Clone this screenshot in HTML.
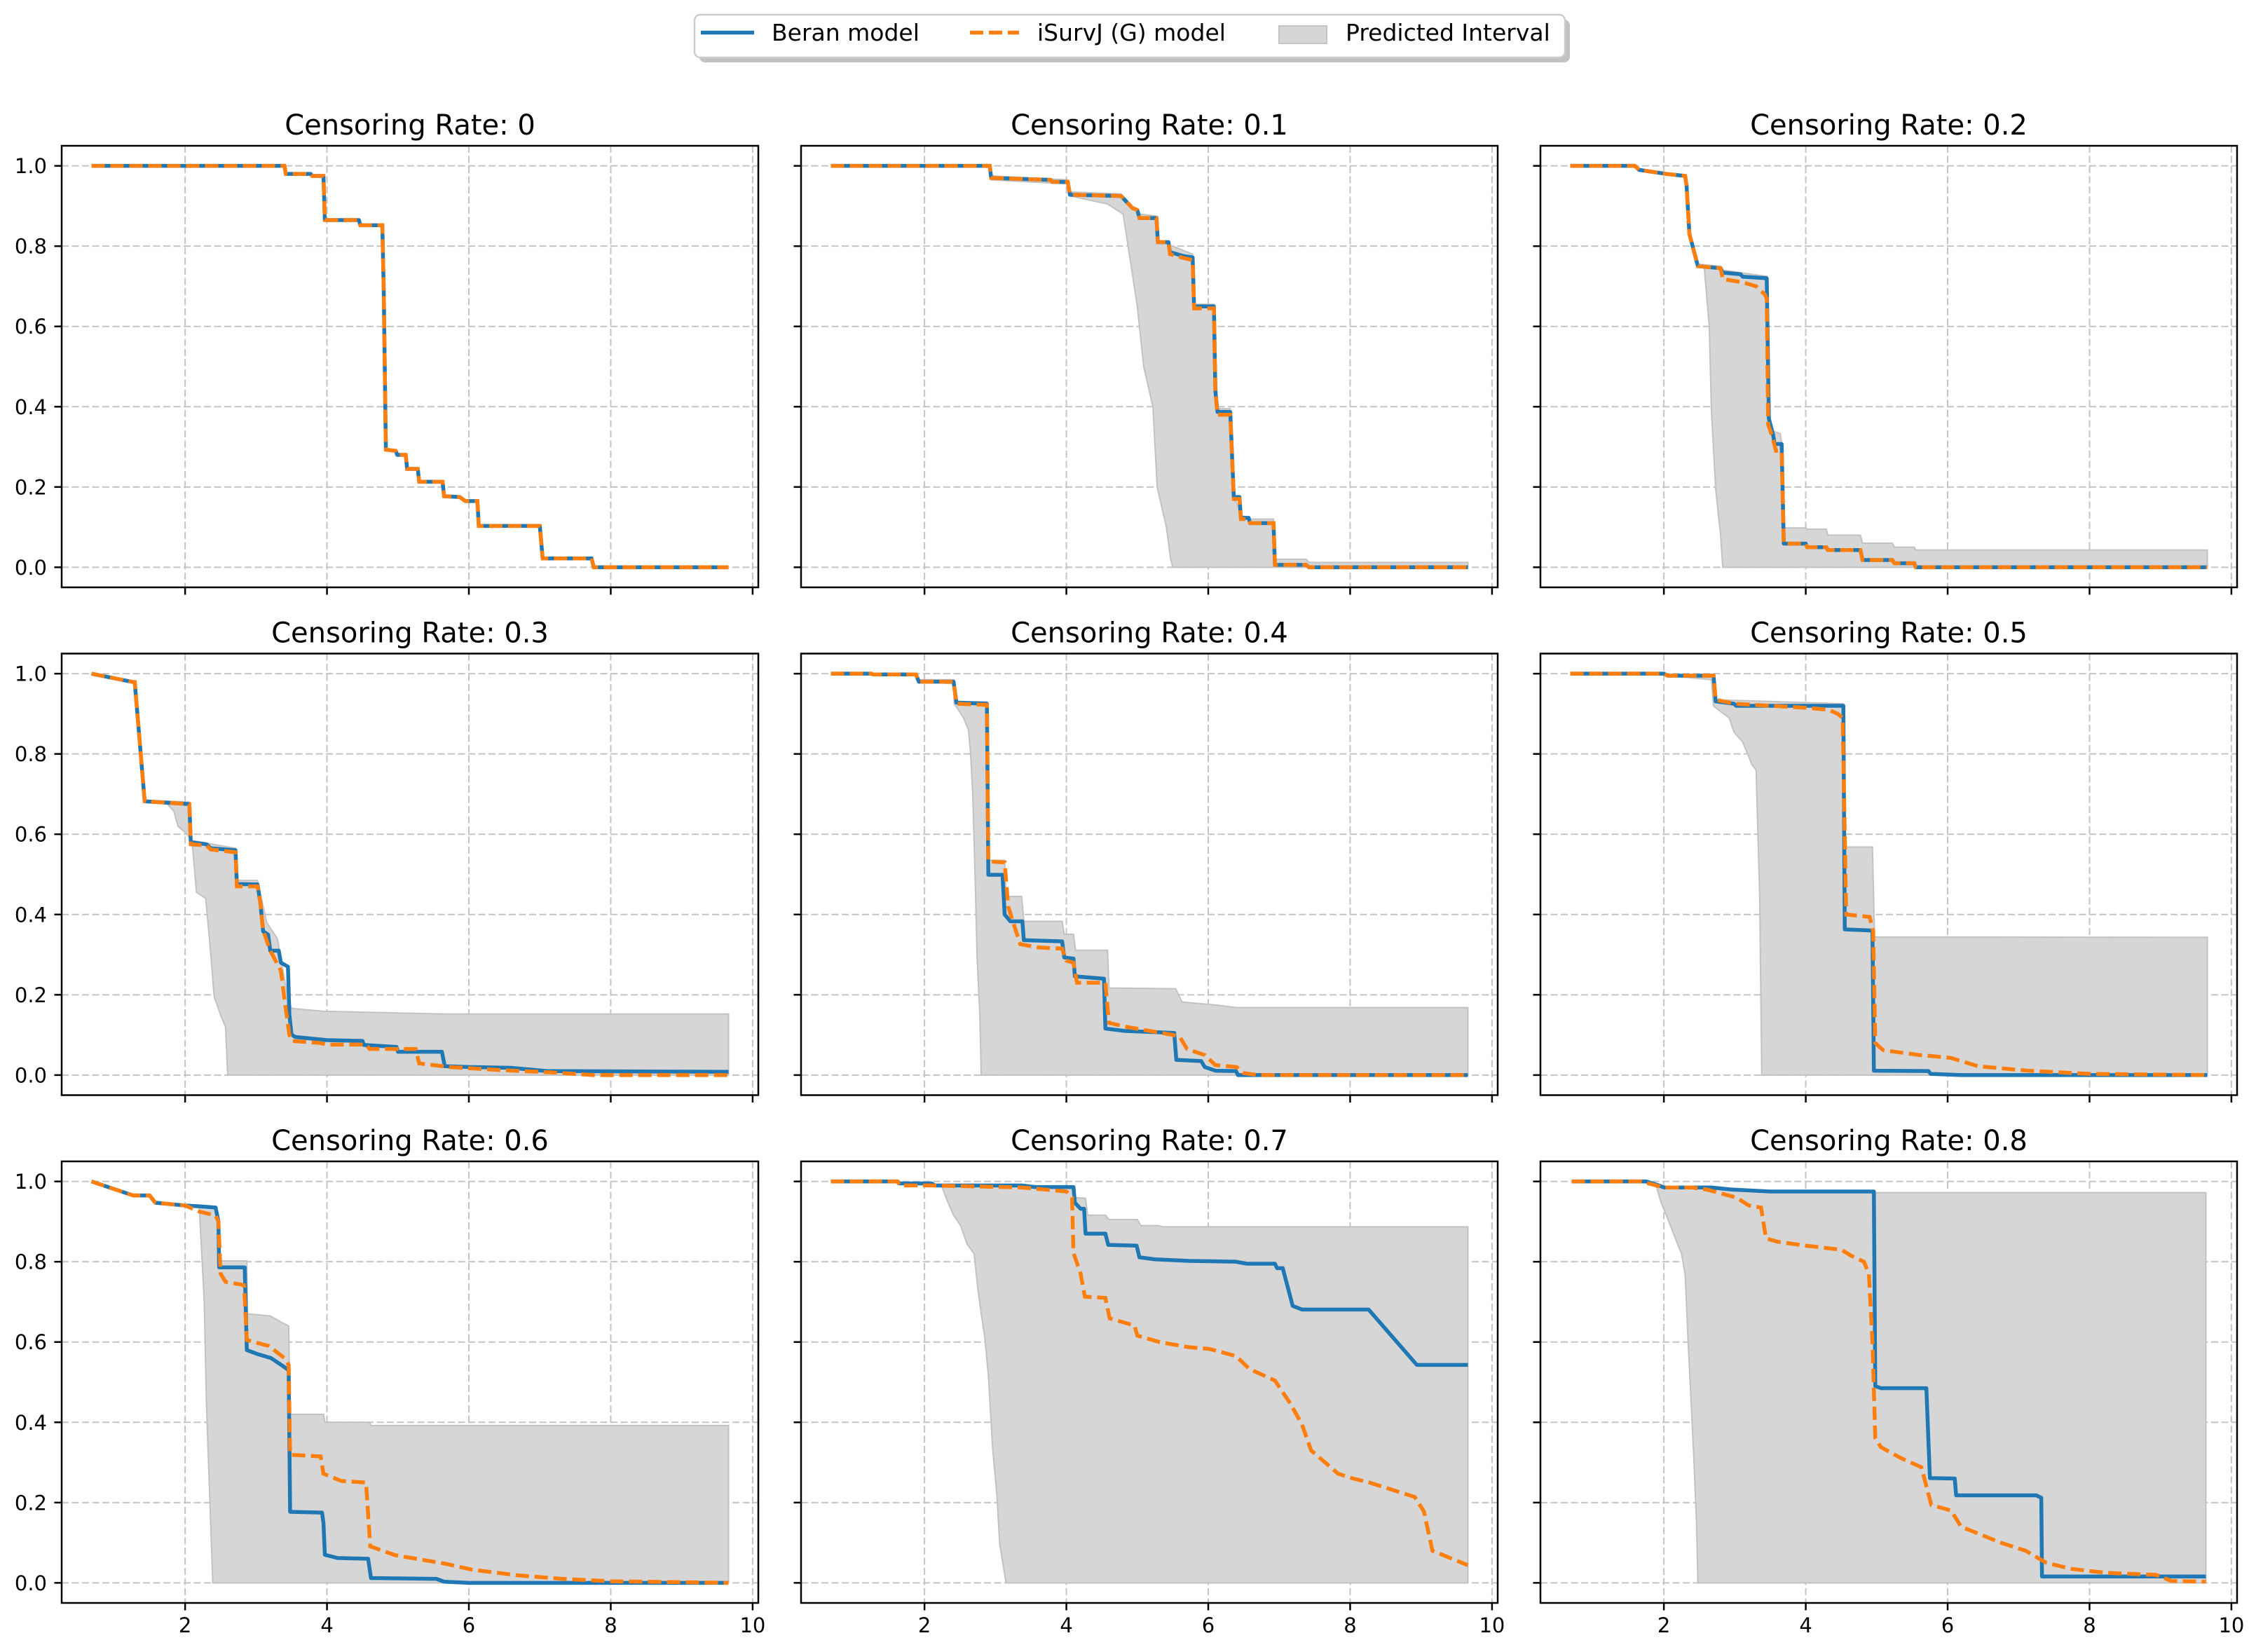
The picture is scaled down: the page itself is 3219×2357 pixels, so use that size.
<!DOCTYPE html>
<html><head><meta charset="utf-8">
<style>
html,body{margin:0;padding:0;background:#fff;}
svg{display:block;}
text{font-family:"DejaVu Sans","Liberation Sans",sans-serif;}
</style></head>
<body>
<svg id="fig" xmlns="http://www.w3.org/2000/svg" width="3219" height="2357" viewBox="0 0 3219 2357">
<rect x="0" y="0" width="3219" height="2357" fill="#ffffff"/>
<g>
  <rect x="998" y="28" width="1242" height="61" rx="8" fill="#999999" opacity="0.6"/>
  <rect x="991" y="21" width="1242" height="61" rx="8" fill="#ffffff" stroke="#cccccc" stroke-width="2.5"/>
  <g>
    <line x1="1000" y1="46.5" x2="1076" y2="46.5" stroke="#1f77b4" stroke-width="5.5"/>
    <text x="1101" y="58" font-size="33" fill="#000">Beran model</text>
  </g>
  <g>
    <line x1="1384" y1="46.5" x2="1454" y2="46.5" stroke="#ff7f0e" stroke-width="5.5" stroke-dasharray="19 8"/>
    <text x="1480" y="58" font-size="33" fill="#000">iSurvJ (G) model</text>
  </g>
  <g>
    <rect x="1825" y="37" width="68" height="25" fill="#d6d6d6" stroke="#c4c4c4" stroke-width="2"/>
    <text x="1920" y="58" font-size="33" fill="#000">Predicted Interval</text>
  </g>
</g>
</svg>
<script>
const panelTitles = ["Censoring Rate: 0","Censoring Rate: 0.1","Censoring Rate: 0.2","Censoring Rate: 0.3","Censoring Rate: 0.4","Censoring Rate: 0.5","Censoring Rate: 0.6","Censoring Rate: 0.7","Censoring Rate: 0.8"];
const yTicks = [0, 0.2, 0.4, 0.6, 0.8, 1.0];
const yTickLabels = ["0.0","0.2","0.4","0.6","0.8","1.0"];
const xTicks = [2, 4, 6, 8, 10];
const xTickLabels = ["2","4","6","8","10"];

const cr0_beran = [[0.68,1],[3.40,1],[3.42,0.98],[3.77,0.98],[3.79,0.975],[3.95,0.975],[3.97,0.865],[4.45,0.865],[4.47,0.852],[4.78,0.852],[4.80,0.69],[4.83,0.293],[4.97,0.29],[4.99,0.28],[5.11,0.28],[5.13,0.245],[5.28,0.245],[5.30,0.213],[5.63,0.213],[5.65,0.177],[5.87,0.175],[5.95,0.165],[6.12,0.165],[6.14,0.103],[7.0,0.103],[7.04,0.022],[7.73,0.022],[7.76,0],[9.66,0]];
const cr0_isurv = [[0.68,1],[3.40,1],[3.42,0.98],[3.77,0.98],[3.79,0.975],[3.95,0.975],[3.97,0.865],[4.45,0.865],[4.47,0.852],[4.78,0.852],[4.80,0.69],[4.83,0.293],[4.97,0.29],[4.99,0.28],[5.11,0.28],[5.13,0.245],[5.28,0.245],[5.30,0.213],[5.63,0.213],[5.65,0.177],[5.87,0.175],[5.95,0.165],[6.12,0.165],[6.14,0.103],[7.0,0.103],[7.04,0.022],[7.73,0.022],[7.76,0],[9.66,0]];
const cr0_upper = [];
const cr0_lower = [];

const cr1_beran = [[0.68,1],[2.92,1],[2.94,0.97],[3.78,0.965],[3.80,0.96],[4.02,0.96],[4.05,0.928],[4.77,0.925],[4.85,0.91],[4.93,0.895],[5.0,0.89],[5.03,0.87],[5.27,0.87],[5.29,0.81],[5.44,0.81],[5.46,0.785],[5.66,0.775],[5.78,0.772],[5.80,0.65],[6.08,0.65],[6.10,0.44],[6.13,0.387],[6.31,0.387],[6.36,0.175],[6.44,0.175],[6.46,0.123],[6.57,0.123],[6.59,0.11],[6.92,0.11],[6.94,0.006],[7.38,0.006],[7.42,0],[9.66,0]];
const cr1_isurv = [[0.68,1],[2.92,1],[2.94,0.97],[3.78,0.965],[3.80,0.96],[4.02,0.96],[4.05,0.928],[4.77,0.925],[4.85,0.91],[4.93,0.895],[5.0,0.89],[5.03,0.87],[5.27,0.87],[5.29,0.81],[5.44,0.81],[5.46,0.78],[5.66,0.77],[5.78,0.765],[5.80,0.645],[6.08,0.645],[6.10,0.44],[6.13,0.38],[6.31,0.38],[6.36,0.17],[6.44,0.17],[6.46,0.12],[6.57,0.12],[6.59,0.11],[6.92,0.11],[6.94,0.006],[7.38,0.006],[7.42,0],[9.66,0]];
const cr1_upper = [[0.68,1],[2.92,1],[2.94,0.975],[4.02,0.965],[4.05,0.935],[4.77,0.93],[5.03,0.88],[5.27,0.875],[5.29,0.815],[5.78,0.78],[5.80,0.655],[6.08,0.655],[6.13,0.395],[6.31,0.395],[6.36,0.18],[6.46,0.13],[6.59,0.12],[6.92,0.12],[6.94,0.02],[7.38,0.02],[7.42,0.012],[9.66,0.012]];
const cr1_lower = [[0.68,1],[2.92,1],[2.94,0.965],[4.02,0.955],[4.05,0.925],[4.58,0.905],[4.80,0.88],[4.87,0.80],[5.0,0.65],[5.09,0.5],[5.22,0.4],[5.28,0.2],[5.41,0.1],[5.47,0.02],[5.50,0],[9.66,0]];

const cr2_beran = [[0.68,1],[1.59,1],[1.65,0.99],[2.03,0.98],[2.30,0.975],[2.32,0.95],[2.36,0.83],[2.45,0.77],[2.48,0.75],[2.80,0.745],[2.83,0.734],[3.08,0.73],[3.11,0.724],[3.45,0.72],[3.48,0.37],[3.54,0.33],[3.56,0.307],[3.66,0.307],[3.69,0.059],[4.0,0.059],[4.02,0.05],[4.29,0.05],[4.31,0.043],[4.77,0.043],[4.80,0.018],[5.22,0.018],[5.25,0.01],[5.53,0.01],[5.55,0],[9.66,0]];
const cr2_isurv = [[0.68,1],[1.59,1],[1.65,0.99],[2.03,0.98],[2.30,0.975],[2.32,0.95],[2.36,0.83],[2.45,0.77],[2.48,0.75],[2.80,0.745],[2.83,0.718],[3.11,0.71],[3.30,0.70],[3.42,0.68],[3.45,0.67],[3.47,0.355],[3.52,0.33],[3.58,0.29],[3.66,0.29],[3.69,0.059],[4.0,0.059],[4.02,0.05],[4.29,0.05],[4.31,0.043],[4.77,0.043],[4.80,0.018],[5.22,0.018],[5.25,0.01],[5.53,0.01],[5.55,0],[9.66,0]];
const cr2_upper = [[0.68,1],[1.59,1],[1.65,0.99],[2.03,0.98],[2.30,0.975],[2.32,0.95],[2.36,0.83],[2.45,0.77],[2.48,0.755],[2.80,0.75],[2.83,0.74],[3.45,0.725],[3.48,0.40],[3.52,0.34],[3.64,0.333],[3.66,0.31],[3.69,0.098],[4.0,0.098],[4.02,0.095],[4.29,0.095],[4.31,0.08],[4.77,0.08],[4.80,0.06],[5.22,0.06],[5.25,0.05],[5.53,0.05],[5.55,0.043],[9.66,0.043]];
const cr2_lower = [[0.68,1],[1.59,1],[1.65,0.99],[2.03,0.98],[2.30,0.975],[2.32,0.95],[2.36,0.83],[2.45,0.77],[2.48,0.75],[2.57,0.745],[2.64,0.6],[2.67,0.39],[2.73,0.195],[2.80,0.08],[2.83,0],[9.66,0]];

const cr3_beran = [[0.68,1],[1.27,0.979],[1.29,0.979],[1.43,0.682],[2.06,0.675],[2.08,0.58],[2.30,0.575],[2.36,0.565],[2.71,0.56],[2.73,0.476],[3.02,0.475],[3.06,0.43],[3.10,0.358],[3.17,0.35],[3.2,0.31],[3.32,0.31],[3.35,0.28],[3.45,0.27],[3.47,0.15],[3.5,0.101],[3.55,0.095],[4.0,0.087],[4.5,0.085],[4.52,0.075],[4.98,0.07],[5.0,0.058],[5.62,0.058],[5.66,0.022],[6.0,0.02],[6.6,0.018],[7.1,0.01],[9.66,0.008]];
const cr3_isurv = [[0.68,1],[1.27,0.979],[1.29,0.979],[1.43,0.682],[2.06,0.675],[2.08,0.575],[2.30,0.572],[2.36,0.562],[2.71,0.555],[2.73,0.47],[3.02,0.47],[3.06,0.43],[3.10,0.36],[3.2,0.31],[3.35,0.26],[3.4,0.19],[3.47,0.1],[3.5,0.085],[3.9,0.08],[4.0,0.076],[4.55,0.076],[4.6,0.065],[5.25,0.065],[5.30,0.029],[5.73,0.02],[6.49,0.012],[7.13,0.007],[7.76,0.0],[9.66,0]];
const cr3_upper = [[0.68,1],[1.27,0.98],[1.29,0.98],[1.43,0.685],[2.06,0.68],[2.08,0.585],[2.71,0.565],[2.73,0.485],[3.02,0.485],[3.15,0.38],[3.3,0.34],[3.44,0.2],[3.5,0.166],[3.94,0.159],[5.66,0.152],[9.66,0.152]];
const cr3_lower = [[0.68,1],[1.27,0.979],[1.29,0.979],[1.43,0.682],[1.75,0.675],[1.84,0.658],[1.9,0.62],[2.03,0.6],[2.1,0.58],[2.16,0.456],[2.29,0.44],[2.35,0.326],[2.41,0.195],[2.51,0.145],[2.57,0.12],[2.60,0],[9.66,0]];

const cr4_beran = [[0.68,1],[1.25,1],[1.27,0.998],[1.88,0.998],[1.92,0.98],[2.41,0.98],[2.45,0.928],[2.88,0.925],[2.9,0.499],[3.1,0.499],[3.13,0.40],[3.21,0.383],[3.38,0.383],[3.40,0.336],[3.94,0.333],[3.97,0.293],[4.1,0.29],[4.12,0.246],[4.53,0.24],[4.55,0.116],[4.82,0.11],[5.52,0.105],[5.55,0.038],[5.9,0.035],[5.95,0.02],[6.1,0.011],[6.39,0.01],[6.42,0.0],[9.66,0]];
const cr4_isurv = [[0.68,1],[1.25,1],[1.27,0.998],[1.88,0.998],[1.92,0.98],[2.41,0.98],[2.45,0.925],[2.88,0.922],[2.9,0.532],[3.13,0.53],[3.18,0.42],[3.25,0.38],[3.35,0.326],[3.6,0.318],[3.94,0.315],[4.0,0.285],[4.1,0.28],[4.15,0.23],[4.55,0.23],[4.6,0.13],[4.85,0.12],[5.5,0.10],[5.6,0.095],[5.7,0.065],[5.95,0.05],[6.1,0.025],[6.4,0.02],[6.5,0.005],[6.7,0],[9.66,0]];
const cr4_upper = [[0.68,1],[1.25,1],[1.88,1],[1.92,0.985],[2.41,0.985],[2.45,0.93],[2.88,0.93],[2.9,0.535],[3.13,0.535],[3.15,0.445],[3.37,0.445],[3.40,0.383],[3.94,0.383],[3.97,0.351],[4.10,0.351],[4.13,0.311],[4.58,0.311],[4.60,0.217],[5.54,0.215],[5.63,0.182],[6.08,0.175],[6.4,0.168],[9.66,0.168]];
const cr4_lower = [[0.68,1],[1.25,1],[1.88,0.998],[1.92,0.98],[2.41,0.975],[2.42,0.925],[2.55,0.89],[2.62,0.86],[2.65,0.80],[2.68,0.70],[2.72,0.45],[2.74,0.30],[2.78,0.15],[2.80,0],[9.66,0]];

const cr5_beran = [[0.68,1],[2.0,1],[2.05,0.995],[2.7,0.995],[2.73,0.931],[2.99,0.925],[3.02,0.92],[4.53,0.92],[4.55,0.363],[4.94,0.36],[4.96,0.011],[5.73,0.01],[5.76,0.003],[6.2,0],[9.66,0]];
const cr5_isurv = [[0.68,1],[2.0,1],[2.05,0.995],[2.7,0.995],[2.73,0.935],[3.0,0.925],[4.0,0.915],[4.32,0.91],[4.45,0.9],[4.52,0.89],[4.57,0.40],[4.9,0.394],[4.95,0.36],[4.98,0.08],[5.09,0.062],[5.6,0.05],[6.04,0.043],[6.43,0.022],[7.13,0.011],[8.0,0.003],[9.66,0]];
const cr5_upper = [[0.68,1],[2.0,1],[2.05,0.995],[2.7,0.995],[2.73,0.935],[4.53,0.925],[4.56,0.568],[4.94,0.568],[4.97,0.344],[9.66,0.343]];
const cr5_lower = [[0.68,1],[2.0,1],[2.05,0.995],[2.67,0.985],[2.70,0.919],[2.92,0.89],[2.99,0.854],[3.11,0.83],[3.18,0.80],[3.24,0.774],[3.30,0.76],[3.35,0.45],[3.38,0],[9.66,0]];

const cr6_beran = [[0.68,1],[1.27,0.965],[1.50,0.965],[1.58,0.947],[2.0,0.94],[2.2,0.938],[2.43,0.935],[2.47,0.9],[2.48,0.786],[2.84,0.786],[2.87,0.58],[3.02,0.57],[3.21,0.56],[3.38,0.54],[3.46,0.53],[3.48,0.177],[3.93,0.175],[3.95,0.15],[3.97,0.07],[4.15,0.062],[4.58,0.06],[4.62,0.012],[5.54,0.01],[5.65,0.003],[6.0,0],[9.66,0]];
const cr6_isurv = [[0.68,1],[1.27,0.965],[1.50,0.965],[1.58,0.947],[2.0,0.94],[2.2,0.925],[2.43,0.915],[2.47,0.9],[2.5,0.77],[2.57,0.75],[2.83,0.742],[2.87,0.605],[3.18,0.59],[3.4,0.56],[3.46,0.543],[3.48,0.319],[3.91,0.315],[3.95,0.272],[4.2,0.254],[4.55,0.25],[4.61,0.091],[4.96,0.069],[5.66,0.048],[6.04,0.033],[6.68,0.019],[7.32,0.01],[8.0,0.004],[9.66,0]];
const cr6_upper = [[0.68,1],[1.27,0.965],[1.50,0.965],[1.58,0.947],[2.0,0.94],[2.43,0.938],[2.48,0.802],[2.87,0.802],[2.88,0.67],[3.2,0.665],[3.4,0.645],[3.46,0.64],[3.48,0.42],[3.95,0.42],[3.97,0.40],[4.6,0.40],[4.62,0.392],[9.66,0.392]];
const cr6_lower = [[0.68,1],[1.27,0.965],[1.50,0.965],[1.58,0.947],[2.0,0.94],[2.2,0.935],[2.27,0.7],[2.30,0.45],[2.35,0.2],[2.39,0],[9.66,0]];

const cr7_beran = [[0.68,1],[1.62,1],[1.65,0.995],[2.1,0.995],[2.15,0.99],[3.37,0.99],[3.56,0.986],[4.1,0.986],[4.12,0.947],[4.2,0.932],[4.25,0.932],[4.27,0.87],[4.55,0.87],[4.59,0.842],[4.99,0.84],[5.03,0.811],[5.25,0.806],[5.73,0.802],[6.39,0.8],[6.55,0.795],[6.94,0.795],[6.97,0.784],[7.05,0.784],[7.19,0.69],[7.32,0.681],[8.26,0.681],[8.94,0.543],[9.66,0.543]];
const cr7_isurv = [[0.68,1],[1.62,1],[1.65,0.99],[2.1,0.99],[3.37,0.985],[3.56,0.982],[4.0,0.975],[4.08,0.96],[4.1,0.822],[4.2,0.771],[4.26,0.713],[4.55,0.71],[4.61,0.659],[4.96,0.641],[5.0,0.616],[5.31,0.6],[5.73,0.587],[6.01,0.583],[6.39,0.565],[6.58,0.533],[6.94,0.504],[7.16,0.446],[7.32,0.395],[7.45,0.33],[7.64,0.301],[7.83,0.272],[8.02,0.261],[8.27,0.25],[8.91,0.214],[9.04,0.178],[9.16,0.08],[9.66,0.044]];
const cr7_upper = [[0.68,1],[1.62,1],[1.65,0.995],[2.1,0.995],[2.15,0.99],[3.37,0.99],[3.56,0.987],[4.1,0.987],[4.12,0.96],[4.27,0.958],[4.30,0.916],[4.55,0.916],[4.60,0.905],[5.0,0.905],[5.05,0.89],[5.3,0.89],[5.35,0.887],[9.66,0.887]];
const cr7_lower = [[0.68,1],[1.62,1],[1.65,0.995],[2.1,0.995],[2.25,0.985],[2.32,0.952],[2.41,0.916],[2.51,0.89],[2.6,0.844],[2.7,0.82],[2.75,0.735],[2.8,0.67],[2.85,0.612],[2.9,0.518],[2.96,0.337],[3.02,0.22],[3.06,0.098],[3.15,0],[9.66,0]];

const cr8_beran = [[0.70,1],[1.75,1],[1.93,0.99],[2.0,0.985],[2.67,0.985],[2.95,0.98],[3.5,0.975],[4.96,0.975],[4.98,0.49],[5.06,0.485],[5.70,0.485],[5.75,0.261],[6.10,0.26],[6.12,0.218],[7.25,0.218],[7.32,0.212],[7.33,0.016],[9.64,0.016]];
const cr8_isurv = [[0.70,1],[1.68,1],[1.89,0.99],[2.0,0.985],[2.39,0.985],[2.6,0.98],[2.81,0.97],[3.02,0.96],[3.2,0.94],[3.37,0.935],[3.44,0.858],[3.6,0.85],[4.0,0.84],[4.5,0.83],[4.64,0.815],[4.82,0.80],[4.89,0.77],[4.94,0.6],[4.98,0.36],[5.06,0.338],[5.35,0.31],[5.63,0.288],[5.77,0.194],[6.05,0.18],[6.19,0.14],[6.47,0.12],[6.75,0.1],[7.1,0.08],[7.39,0.05],[7.74,0.035],[8.23,0.025],[8.94,0.02],[9.15,0.005],[9.64,0.003]];
const cr8_upper = [[0.70,1],[1.75,1],[1.93,0.99],[2.0,0.985],[2.67,0.985],[2.95,0.98],[3.5,0.975],[4.96,0.975],[4.98,0.972],[9.64,0.972]];
const cr8_lower = [[0.70,1],[1.75,1],[1.89,0.99],[1.96,0.948],[2.07,0.90],[2.18,0.85],[2.25,0.82],[2.30,0.768],[2.34,0.607],[2.37,0.5],[2.42,0.32],[2.46,0.15],[2.48,0],[9.64,0]];

const beranSeries = [cr0_beran,cr1_beran,cr2_beran,cr3_beran,cr4_beran,cr5_beran,cr6_beran,cr7_beran,cr8_beran];
const isurvSeries = [cr0_isurv,cr1_isurv,cr2_isurv,cr3_isurv,cr4_isurv,cr5_isurv,cr6_isurv,cr7_isurv,cr8_isurv];
const upperSeries = [cr0_upper,cr1_upper,cr2_upper,cr3_upper,cr4_upper,cr5_upper,cr6_upper,cr7_upper,cr8_upper];
const lowerSeries = [cr0_lower,cr1_lower,cr2_lower,cr3_lower,cr4_lower,cr5_lower,cr6_lower,cr7_lower,cr8_lower];

const NS = "http://www.w3.org/2000/svg";
const svg = document.getElementById('fig');
const colLefts = [88, 1143, 2198];
const rowTops = [208, 932.5, 1657];
const PW = 994, PH = 630;
const XMIN = 0.26, XMAX = 10.08, YMIN = -0.05, YMAX = 1.05;

function mk(tag, attrs, parent) {
  const e = document.createElementNS(NS, tag);
  for (const k in attrs) e.setAttribute(k, attrs[k]);
  parent.appendChild(e);
  return e;
}

for (let i = 0; i < 9; i++) {
  const r = Math.floor(i / 3), c = i % 3;
  const L = colLefts[c], T = rowTops[r];
  const xs = v => L + (v - XMIN) / (XMAX - XMIN) * PW;
  const ys = v => T + (YMAX - v) / (YMAX - YMIN) * PH;
  const g = mk('g', {}, svg);
  
  

  const title = mk('text', {x: L + PW / 2, y: T - 16, 'font-size': 40, 'text-anchor': 'middle', fill: '#000'}, g);
  title.textContent = panelTitles[i];
  
  

  const grid = mk('g', {stroke: '#c4c4c4', 'stroke-width': 2, 'stroke-dasharray': '10 4.5'}, g);
  
  
  xTicks.forEach(t => { mk('line', {x1: xs(t), x2: xs(t), y1: T, y2: T + PH}, grid); });
  yTicks.forEach(t => { mk('line', {x1: L, x2: L + PW, y1: ys(t), y2: ys(t)}, grid); });

  const up = upperSeries[i], lo = lowerSeries[i];
  if (up.length && lo.length) {
    const pts = up.map(p => xs(p[0]) + ',' + ys(p[1])).concat(lo.slice().reverse().map(p => xs(p[0]) + ',' + ys(p[1])));
    const poly = mk('polygon', {points: pts.join(' '), fill: '#d6d6d6', stroke: '#c2c2c2', 'stroke-width': 2}, g);
    
    
  }
  const bl = mk('polyline', {points: beranSeries[i].map(p => xs(p[0]) + ',' + ys(p[1])).join(' '), fill: 'none', stroke: '#1f77b4', 'stroke-width': 5.5, 'stroke-linejoin': 'round'}, g);
  
  
  const il = mk('polyline', {points: isurvSeries[i].map(p => xs(p[0]) + ',' + ys(p[1])).join(' '), fill: 'none', stroke: '#ff7f0e', 'stroke-width': 5.5, 'stroke-dasharray': '19 8'}, g);
  
  

  const fr = mk('rect', {x: L, y: T, width: PW, height: PH, fill: 'none', stroke: '#000', 'stroke-width': 2.5}, g);
  
  

  const tk = mk('g', {stroke: '#000', 'stroke-width': 2.5}, g);
  
  
  xTicks.forEach(t => { mk('line', {x1: xs(t), x2: xs(t), y1: T + PH, y2: T + PH + 10.5}, tk); });
  yTicks.forEach(t => { mk('line', {x1: L - 10.5, x2: L, y1: ys(t), y2: ys(t)}, tk); });

  if (c === 0) {
    yTicks.forEach((t, k) => {
      const lb = mk('text', {x: L - 21, y: ys(t) + 10.5, 'font-size': 29, 'text-anchor': 'end', fill: '#000'}, g);
      lb.textContent = yTickLabels[k];
      
      
    });
  }
  if (r === 2) {
    xTicks.forEach((t, k) => {
      const lb = mk('text', {x: xs(t), y: T + PH + 42, 'font-size': 29, 'text-anchor': 'middle', fill: '#000'}, g);
      lb.textContent = xTickLabels[k];
      
      
    });
  }
}
</script>
</body></html>
